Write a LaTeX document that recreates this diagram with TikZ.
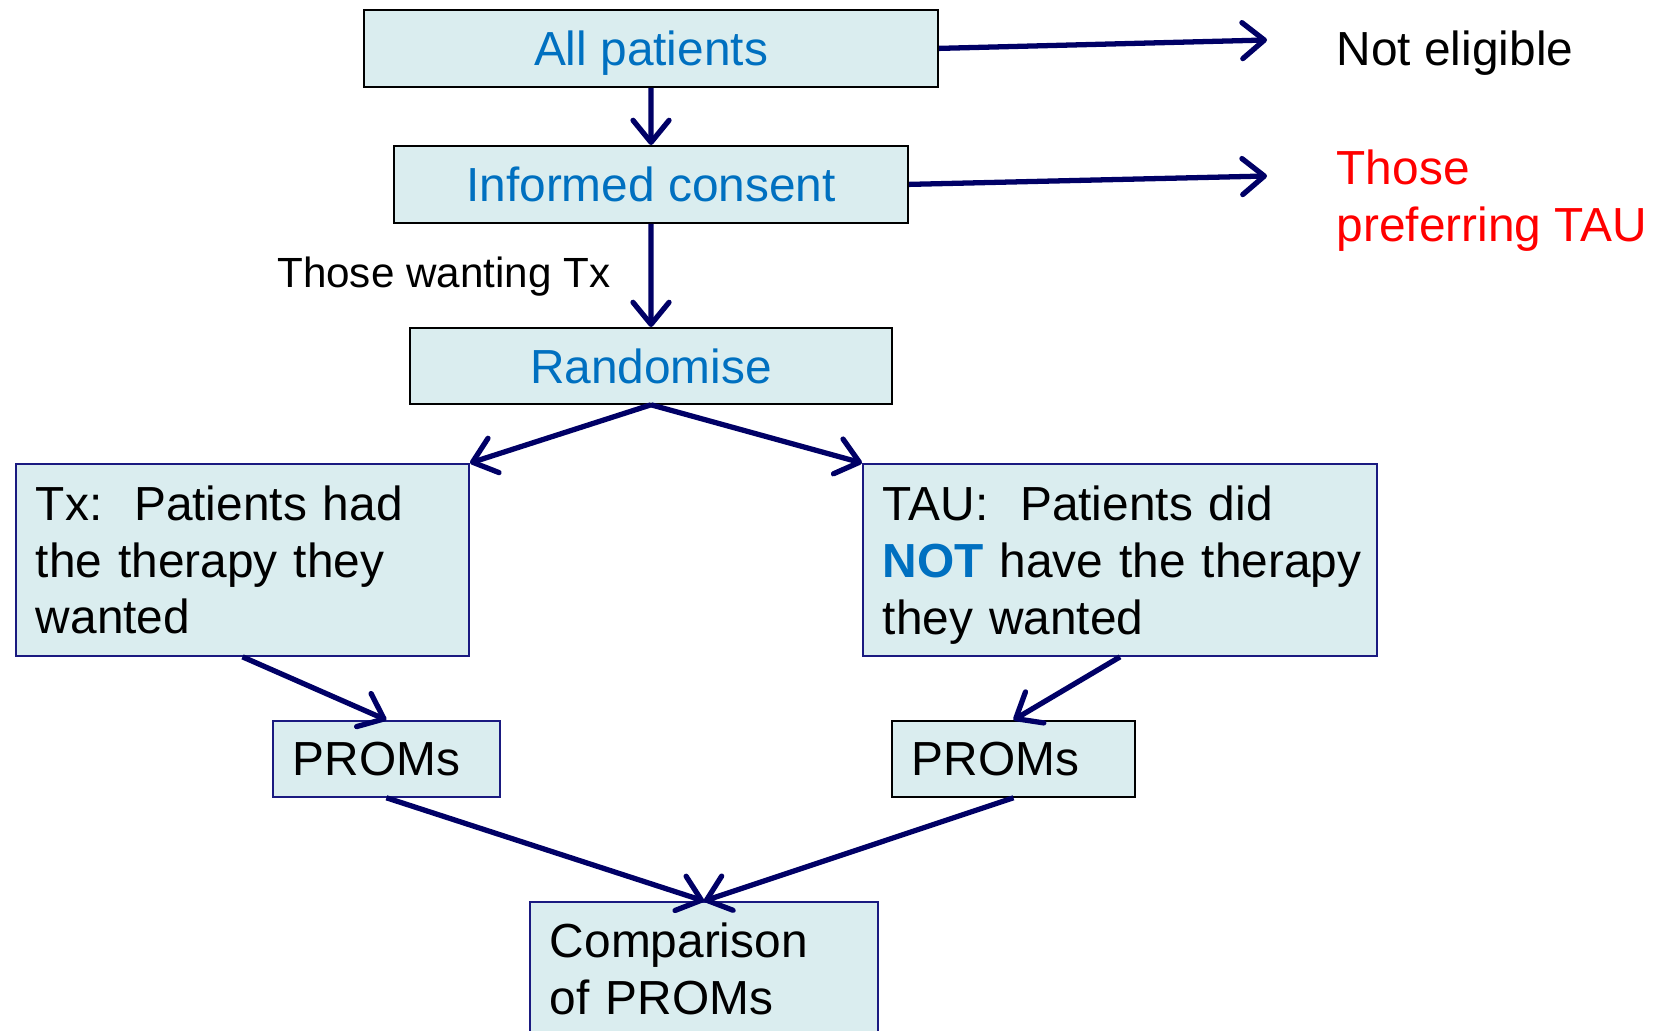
\documentclass[tikz,border=0pt]{standalone}
\usepackage{fontspec}
\setmainfont{Liberation Sans}
\usetikzlibrary{arrows.meta}
\definecolor{boxfill}{HTML}{DAEDEF}
\definecolor{arrownavy}{HTML}{000066}
\definecolor{titleblue}{HTML}{0070C0}
\definecolor{navyline}{HTML}{1A1A80}
\newcommand{\bigtext}{\fontsize{13.6}{16.2}\selectfont\hyphenpenalty=10000}
\newcommand{\smalltext}{\fontsize{12}{14}\selectfont}

\begin{document}
\begin{tikzpicture}[x=0.01cm, y=-0.01cm,
  box/.style={draw=black, line width=0.5pt, fill=boxfill, inner xsep=0.2cm, font=\bigtext},
  titlebox/.style={box, text=titleblue, text depth=0pt, anchor=north west},
  textbox/.style={box, draw=navyline, align=left, anchor=north west},
  flow/.style={draw=arrownavy, line width=1.5pt, -{Straight Barb[length=0.22cm, width=0.36cm, round]}}]
\useasboundingbox (0,0) rectangle (1660,1031);
% main column
\node[titlebox, minimum width=5.74cm, minimum height=0.77cm] (all) at (363,9) {All patients};
\node[titlebox, minimum width=5.14cm, minimum height=0.77cm] (ic) at (393,145) {Informed consent};
\node[titlebox, minimum width=4.82cm, minimum height=0.76cm] (rand) at (409,327) {Randomise};
% arms
\node[textbox, text width=4.13cm, minimum height=1.92cm] (tx) at (15,463) {Tx:\ \ Patients had\\ the therapy they\\ wanted};
\node[textbox, text width=4.74cm, minimum height=1.92cm] (tau) at (862,463) {TAU:\ \ Patients did\\ \mbox{{\color{titleblue}\bfseries NOT} have the therapy}\\ \smash{they wanted}};
\node[textbox, text depth=0pt, text width=1.87cm, minimum height=0.76cm] (promsl) at (272,720) {PROMs};
\node[textbox, draw=black, text depth=0pt, text width=2.03cm, minimum height=0.76cm] (promsr) at (891,720) {PROMs};
\node[textbox, text width=3.08cm, inner ysep=0.21cm, text depth=1.2cm] (cmp) at (529,901) {Comparison\\ of PROMs};
% side labels
\node[anchor=west, font=\bigtext, inner sep=0pt] (notel) at (1336,53) {Not eligible};
\node[anchor=north west, align=left, text=red, font=\bigtext, inner sep=0pt] (tauref) at (1336,149) {Those\\ preferring TAU};
\node[anchor=base east, font=\smalltext, inner sep=0pt] (want) at (611,288) {Those wanting Tx};
\coordinate (nottip) at (1267,40);
\coordinate (preftip) at (1267,176);
% arrows
\draw[flow] (all.east) -- (nottip);
\draw[flow] (ic.east) -- (preftip);
\draw[flow] (all.south) -- (ic.north);
\draw[flow] (ic.south) -- (rand.north);
\draw[flow] (rand.south) -- (tx.north east);
\draw[flow] (rand.south) -- (tau.north west);
\draw[flow] (tx.south) -- (promsl.north);
\draw[flow] (tau.south) -- (promsr.north);
\draw[flow] (promsl.south) -- (cmp.north);
\draw[flow] (promsr.south) -- (cmp.north);
\end{tikzpicture}
\end{document}
